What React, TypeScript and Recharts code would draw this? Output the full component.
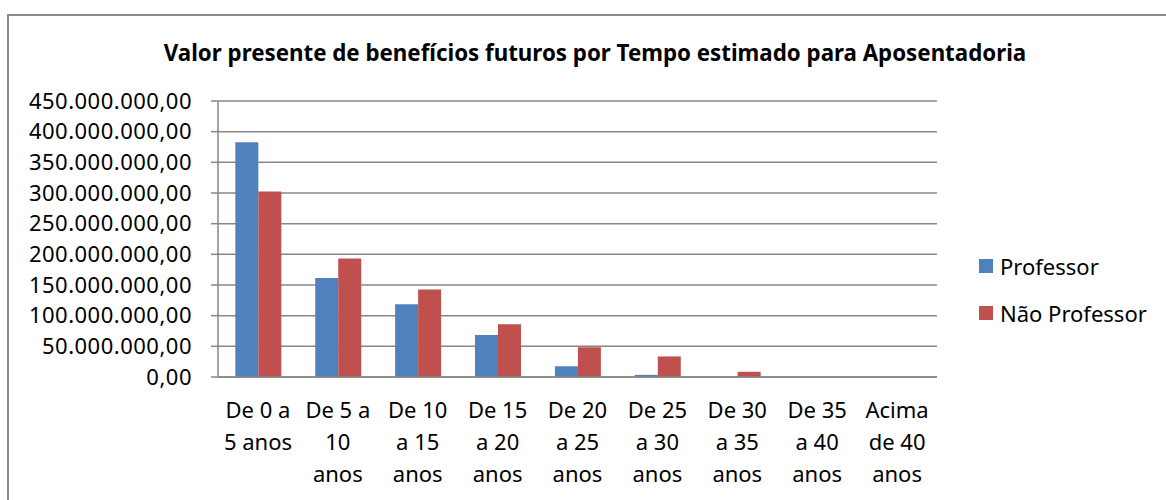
import { BarChart, Bar, XAxis, YAxis, CartesianGrid } from "recharts";

const faixas = [
  "De 0 a|5 anos",
  "De 5 a|10|anos",
  "De 10|a 15|anos",
  "De 15|a 20|anos",
  "De 20|a 25|anos",
  "De 25|a 30|anos",
  "De 30|a 35|anos",
  "De 35|a 40|anos",
  "Acima|de 40|anos",
];

const professor = [382600000, 161600000, 118700000, 68600000, 17500000, 3500000, 0, 0, 0];
const naoProfessor = [302600000, 193200000, 142700000, 86000000, 48500000, 33500000, 8500000, 0, 0];

const yTicks = [0, 50000000, 100000000, 150000000, 200000000, 250000000, 300000000, 350000000, 400000000, 450000000];
const boundaryTicks = [0, 1, 2, 3, 4, 5, 6, 7, 8, 9];

const data = faixas.map((faixa, i) => ({
  faixa,
  idx: i + 0.5,
  professor: professor[i],
  naoProfessor: naoProfessor[i],
}));

const FONT = "'Noto Sans', sans-serif";
const GRID = "#878787";

function formatBRL(v: number) {
  const int = Math.round(v).toString().replace(/\B(?=(\d{3})+(?!\d))/g, ".");
  return int + ",00";
}

function CategoryTick({ x, y, payload }: any) {
  const lines = String(payload.value).split("|");
  return (
    <text x={x} y={y} textAnchor="middle" fontFamily={FONT} fontSize={22} fill="#000">
      {lines.map((l, i) => (
        <tspan key={i} x={x} dy={i === 0 ? 40 : 32}>
          {l}
        </tspan>
      ))}
    </text>
  );
}

function LegendBox() {
  const items = [
    { label: "Professor", color: "#4F81BD" },
    { label: "Não Professor", color: "#C0504D" },
  ];
  return (
    <div style={{ position: "absolute", left: 979, top: 242, fontFamily: FONT, fontSize: 22, color: "#000" }}>
      {items.map((it) => (
        <div key={it.label} style={{ display: "flex", alignItems: "center", height: 47 }}>
          <span style={{ width: 14, height: 14, background: it.color, marginRight: 7, display: "inline-block" }} />
          <span>{it.label}</span>
        </div>
      ))}
    </div>
  );
}

export default function App() {
  return (
    <div style={{ position: "absolute", left: 0, top: 0, width: 1166, height: 500, overflow: "hidden", background: "#fff" }}>
      <div
        style={{
          position: "absolute",
          left: 7,
          top: 14,
          width: 1200,
          height: 520,
          border: "2px solid #8a8a8a",
          boxSizing: "border-box",
        }}
      />
      <div
        style={{
          position: "absolute",
          left: 0,
          top: 37,
          width: 1190,
          textAlign: "center",
          fontFamily: FONT,
          fontWeight: 700,
          fontSize: 22.3,
          color: "#000",
        }}
      >
        Valor presente de benefícios futuros por Tempo estimado para Aposentadoria
      </div>
      <div style={{ position: "absolute", left: 0, top: 0 }}>
        <BarChart
          width={1166}
          height={500}
          data={data}
          margin={{ top: 101, right: 229, bottom: 0, left: 0 }}
          barCategoryGap="21.7%"
          barGap={0}
        >
          <CartesianGrid xAxisId="b_cat" vertical={false} stroke={GRID} strokeWidth={1.5} />
          <XAxis
            xAxisId="a_ticks"
            dataKey="idx"
            type="number"
            domain={[0, 9]}
            ticks={boundaryTicks}
            height={1}
            tick={false}
            tickSize={8}
            axisLine={{ stroke: GRID, strokeWidth: 1.5 }}
            tickLine={{ stroke: GRID, strokeWidth: 1.5 }}
          />
          <XAxis
            xAxisId="b_cat"
            dataKey="faixa"
            height={122}
            interval={0}
            axisLine={false}
            tickLine={false}
            tickSize={0}
            tickMargin={0}
            tick={<CategoryTick />}
          />
          <YAxis
            width={218}
            domain={[0, 450000000]}
            ticks={yTicks}
            interval={0}
            tickFormatter={formatBRL}
            tickSize={7}
            tickMargin={19}
            axisLine={{ stroke: GRID, strokeWidth: 1.5 }}
            tickLine={{ stroke: GRID, strokeWidth: 1.5 }}
            tick={{ fontFamily: FONT, fontSize: 22, fill: "#000", letterSpacing: 0.5 }}
          />
          <Bar xAxisId="b_cat" dataKey="professor" name="Professor" fill="#4F81BD" isAnimationActive={false} />
          <Bar xAxisId="b_cat" dataKey="naoProfessor" name="Não Professor" fill="#C0504D" isAnimationActive={false} />
        </BarChart>
      </div>
      <LegendBox />
    </div>
  );
}
